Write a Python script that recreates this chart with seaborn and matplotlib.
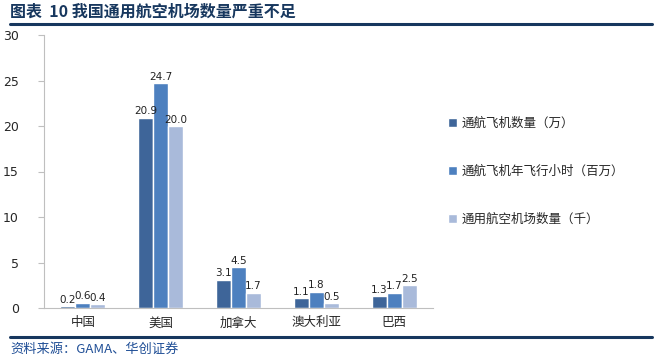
import matplotlib
matplotlib.use("Agg")
import matplotlib.pyplot as plt
import seaborn as sns
import pandas as pd
from matplotlib.lines import Line2D

countries = ["中国", "美国", "加拿大", "澳大利亚", "巴西"]
series_names = ["通航飞机数量（万）", "通航飞机年飞行小时（百万）", "通用航空机场数量（千）"]
aircraft = [0.2, 20.9, 3.1, 1.1, 1.3]
hours = [0.6, 24.7, 4.5, 1.8, 1.7]
airports = [0.4, 20.0, 1.7, 0.5, 2.5]
yticks = [0, 5, 10, 15, 20, 25, 30]

sns.set_style("white")
plt.rcParams['font.family'] = ['Noto Sans CJK SC', 'DejaVu Sans']

rows = []
for s, vals in zip(series_names, [aircraft, hours, airports]):
    for c, v in zip(countries, vals):
        rows.append({"country": c, "series": s, "value": v})
df = pd.DataFrame(rows)

colors = ["#3E6599", "#4D80BF", "#A9BADA"]

fig = plt.figure(figsize=(6.66, 3.58), dpi=100)
ax = fig.add_axes([44/666, 1-308/358, (433-44)/666, (308-35)/358])
sns.barplot(data=df, x="country", y="value", hue="series", palette=colors,
            width=0.58, ax=ax, saturation=1, legend=True)

for cont in ax.containers:
    ax.bar_label(cont, fmt="%.1f", fontsize=7.5, color="#222222", padding=1,
                 family=['DejaVu Sans'])

ax.set_ylim(0, 30)
ax.set_yticks(yticks)
ax.set_yticklabels([str(t) for t in yticks], family=['DejaVu Sans'], fontsize=9)
ax.set_xlim(-0.5, 4.5)
ax.set_xlabel("")
ax.set_ylabel("")
ax.tick_params(axis='x', labelsize=9, length=0, pad=6)
ax.tick_params(axis='y', length=4, color="#BFBFBF", direction='out', left=True, pad=14)
for sp in ["top", "right"]:
    ax.spines[sp].set_visible(False)
for sp in ["left", "bottom"]:
    ax.spines[sp].set_color("#BFBFBF")
    ax.spines[sp].set_linewidth(0.8)

handles, labels = ax.get_legend_handles_labels()
ax.legend(handles, labels, loc="center left", bbox_to_anchor=(1.01, 0.5),
          frameon=False, fontsize=9, handlelength=0.7, handleheight=0.7,
          labelspacing=2.8, handletextpad=0.4)

fig.text(10/666, 1-12/358, "图表  10 我国通用航空机场数量严重不足", fontsize=11.5,
         fontweight='bold', color="#17375E", va='center', ha='left')
fig.add_artist(Line2D([10/666, 652/666], [1-24/358, 1-24/358], color="#17375E",
                      linewidth=2.2, transform=fig.transFigure))
fig.add_artist(Line2D([10/666, 652/666], [1-337/358, 1-337/358], color="#17375E",
                      linewidth=2.2, transform=fig.transFigure))
fig.text(10/666, 1-349/358, "资料来源：GAMA、华创证券", fontsize=9.5,
         style='italic', color="#1F4E96", va='center', ha='left')

fig.savefig("out.png", dpi=100)
